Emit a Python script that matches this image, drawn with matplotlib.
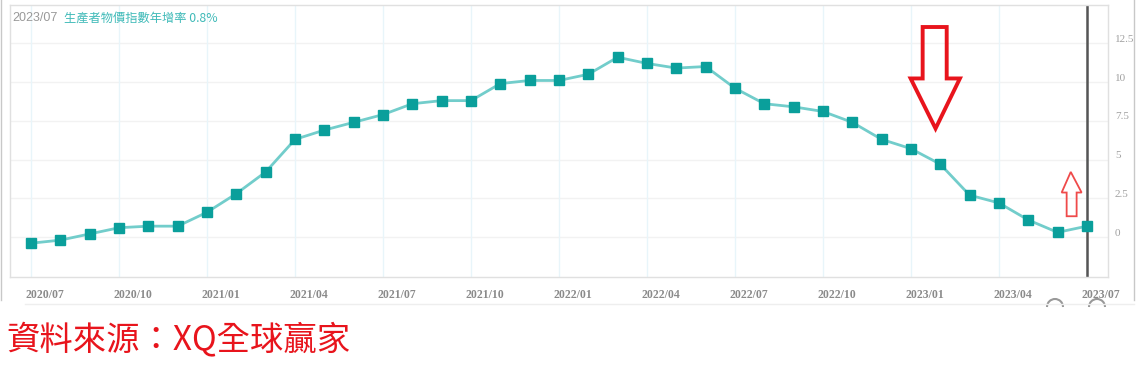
import numpy as np
import matplotlib
matplotlib.use("Agg")
import matplotlib.pyplot as plt
import matplotlib.transforms as mtransforms
from matplotlib.patches import Polygon, Arc
from matplotlib.lines import Line2D

# Data: PPI YoY (%), monthly 2020/07 - 2023/07
months = ["2020/07", "2020/08", "2020/09", "2020/10", "2020/11", "2020/12",
          "2021/01", "2021/02", "2021/03", "2021/04", "2021/05", "2021/06",
          "2021/07", "2021/08", "2021/09", "2021/10", "2021/11", "2021/12",
          "2022/01", "2022/02", "2022/03", "2022/04", "2022/05", "2022/06",
          "2022/07", "2022/08", "2022/09", "2022/10", "2022/11", "2022/12",
          "2023/01", "2023/02", "2023/03", "2023/04", "2023/05", "2023/06",
          "2023/07"]
ppi_yoy = [-0.4, -0.2, 0.2, 0.6, 0.7, 0.7,
           1.6, 2.8, 4.2, 6.3, 6.9, 7.4,
           7.9, 8.6, 8.8, 8.8, 9.9, 10.1,
           10.1, 10.5, 11.6, 11.2, 10.9, 11.0,
           9.6, 8.6, 8.4, 8.1, 7.4, 6.3,
           5.7, 4.7, 2.7, 2.2, 1.1, 0.3,
           0.7]
y_ticks = [0, 2.5, 5, 7.5, 10, 12.5]
y_tick_labels = ["0", "2.5", "5", "7.5", "10", "12.5"]

W, H = 1136, 389
fig = plt.figure(figsize=(W / 100, H / 100), dpi=100)

# plot area in pixels
left, right, top, bottom = 10, 1108, 5, 277
ax = fig.add_axes([left / W, (H - bottom) / H, (right - left) / W, (bottom - top) / H])

x = np.arange(len(months))
ax.plot(x, ppi_yoy, color="#72cdcb", lw=2, zorder=3)
ax.plot(x, ppi_yoy, ls="none", marker="s", ms=7, color="#0a9f9b", zorder=4)

ax.set_xlim(-0.72, 36.72)
ax.set_ylim(-2.58, 14.97)

# grid
xt = x[::3]
ax.set_xticks(xt)
ax.set_xticklabels([months[i] for i in xt], fontsize=8.5, color="#8a8a8a",
                   family="Liberation Serif", fontweight="bold")
ax.set_yticks(y_ticks)
ax.set_yticklabels(y_tick_labels, fontsize=8, color="#a0a0a0", family="Liberation Serif")
ax.yaxis.tick_right()
ax.tick_params(axis="both", length=0)
ax.tick_params(axis="x", pad=9)
ax.tick_params(axis="y", pad=5)
for lab in ax.get_xticklabels():
    lab.set_transform(lab.get_transform() + mtransforms.ScaledTranslation(14 / 100, 0, fig.dpi_scale_trans))
for lab in ax.get_yticklabels():
    lab.set_transform(lab.get_transform() + mtransforms.ScaledTranslation(0, 5 / 100, fig.dpi_scale_trans))

for v in y_ticks:
    ax.axhline(v, color="#f2f2f2", lw=1, zorder=1)
for v in xt:
    ax.axvline(v, color="#e8f5fa", lw=1, zorder=1)
for s in ax.spines.values():
    s.set_color("#e0e0e0")
    s.set_linewidth(1)

# current month marker line
ax.axvline(x[-1], color="#555555", lw=1.8, zorder=2)

# header text
ax.text(0.002, 0.975, "2023/07", transform=ax.transAxes, fontsize=9, color="#999999",
        family="Liberation Sans", va="top", ha="left")
ax.text(0.049, 0.975, "生產者物價指數年增率 0.8%", transform=ax.transAxes, fontsize=8.8,
        color="#3fbab8", family=["Noto Sans CJK TC", "DejaVu Sans"], va="top", ha="left")

# red annotation arrows (data coords)
big_arrow = [(30.40, 13.55), (31.22, 13.55), (31.22, 10.23), (31.67, 10.23),
             (30.84, 7.0), (29.99, 10.23), (30.40, 10.23)]
ax.add_patch(Polygon(big_arrow, closed=True, fill=False, edgecolor="#e8141c", lw=2.8,
                     joinstyle="miter", zorder=5))
small_arrow = [(35.31, 1.34), (35.65, 1.34), (35.65, 2.87), (35.82, 2.87),
               (35.45, 4.2), (35.14, 2.87), (35.31, 2.87)]
ax.add_patch(Polygon(small_arrow, closed=True, fill=False, edgecolor="#ef4a4a", lw=1.3,
                     joinstyle="miter", zorder=5))

# outer frame and scroll buttons of the screenshot
def fx(px):
    return px / W

def fy(py):
    return 1 - py / H

fig.add_artist(Line2D([fx(1), fx(1)], [fy(0), fy(300)], color="#c8c8c8", lw=1))
fig.add_artist(Line2D([fx(1134), fx(1134)], [fy(0), fy(300)], color="#c8c8c8", lw=1))
fig.add_artist(Line2D([fx(25), fx(1134)], [fy(304), fy(304)], color="#eeeeee", lw=1))
for cx in (1055, 1097):
    fig.add_artist(Arc((fx(cx), fy(307)), 16 / W, 16 / H, theta1=0, theta2=180,
                       color="#999999", lw=1.5))

# source note
fig.text(fx(6), fy(340), "資料來源：XQ全球贏家", fontsize=24, color="#e8141c",
         family=["Noto Sans CJK TC", "DejaVu Sans"], va="center", ha="left")

fig.savefig("out.png", dpi=100)
